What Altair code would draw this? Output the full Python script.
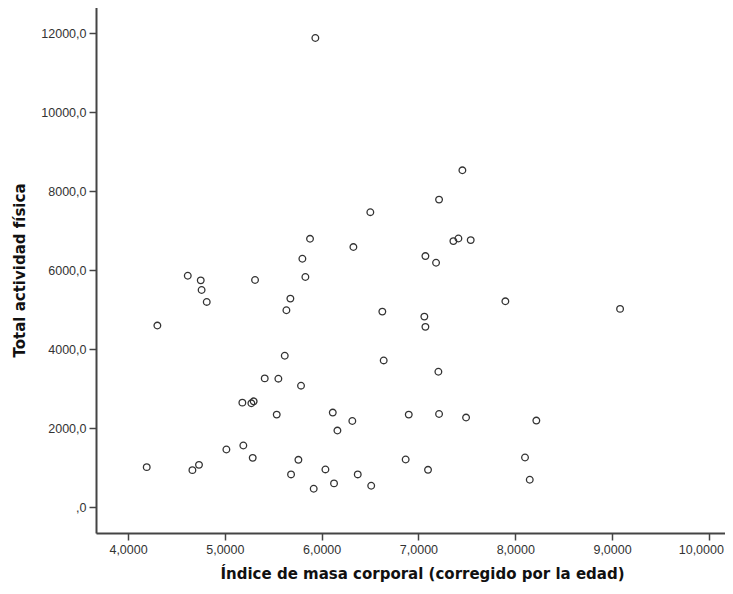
import altair as alt
import pandas as pd

imc = [5.935, 7.454, 7.213, 6.503, 5.880, 6.328, 7.361, 7.413, 7.540, 5.801,
       7.072, 7.182, 5.832, 5.312, 4.617, 4.751, 4.760, 4.813, 4.303, 5.677,
       5.636, 6.627, 7.061, 7.072, 5.619, 6.641, 7.206, 5.412, 5.553, 5.787,
       5.181, 5.274, 5.298, 5.536, 6.115, 6.317, 6.163, 6.900, 7.213, 7.492,
       5.191, 5.016, 5.288, 4.193, 4.665, 4.733, 5.760, 6.868, 6.039, 7.099,
       5.684, 6.373, 6.128, 6.512, 5.918, 7.898, 9.083, 8.218, 8.101, 8.150]

actividad = [11880, 8531, 7789, 7471, 6797, 6588, 6739, 6805, 6764, 6292,
             6360, 6191, 5830, 5754, 5863, 5745, 5502, 5199, 4601, 5283,
             4988, 4954, 4828, 4568, 3836, 3718, 3432, 3264, 3256, 3079,
             2650, 2633, 2683, 2347, 2398, 2186, 1943, 2347, 2363, 2272,
             1565, 1464, 1252, 1017, 941, 1075, 1202, 1211, 959, 949,
             833, 833, 606, 546, 470, 5215, 5023, 2196, 1262, 697]

x_ticks = [4, 5, 6, 7, 8, 9, 10]
y_ticks = [0, 2000, 4000, 6000, 8000, 10000, 12000]

df = pd.DataFrame({"imc": imc, "act": actividad})

label_font = "Liberation Sans"
title_font = "DejaVu Sans"

W = 629
H = 526

points = alt.Chart(df).mark_point(
    shape="circle", filled=False, size=44, strokeWidth=1.3,
    color="#333333", opacity=1
).encode(
    x=alt.X("imc:Q",
            scale=alt.Scale(domain=[3.669, 10.167], nice=False, zero=False),
            axis=alt.Axis(values=x_ticks,
                          labelExpr="replace(format(datum.value, '.4f'), '.', ',')",
                          title="Índice de masa corporal (corregido por la edad)",
                          grid=False, labelFlush=False, labelOverlap=False,
                          labelOffset={"condition": {"test": "datum.value == 10", "value": -8}, "value": 0},
                          labelFont=label_font, labelFontSize=12.5, labelColor="#333333",
                          labelPadding=3, tickSize=7, tickWidth=1.5, tickColor="#444444",
                          domainColor="#444444", domainWidth=2,
                          titleFont=title_font, titleFontSize=15, titleFontWeight="bold",
                          titleColor="#111111", titleX=326, titleY=45,
                          titleAlign="center", titleBaseline="alphabetic")),
    y=alt.Y("act:Q",
            scale=alt.Scale(domain=[-650, 12665], nice=False, zero=False),
            axis=alt.Axis(values=y_ticks,
                          labelExpr="datum.value == 0 ? ',0' : replace(format(datum.value, '.1f'), '.', ',')",
                          title="Total actividad física",
                          grid=False, labelFlush=False, labelOverlap=False,
                          labelFont=label_font, labelFontSize=12.5, labelColor="#333333",
                          labelPadding=3, tickSize=7, tickWidth=1.5, tickColor="#444444",
                          domainColor="#444444", domainWidth=2,
                          titleFont=title_font, titleFontSize=15, titleFontWeight="bold",
                          titleColor="#111111", titleX=-77, titleY=263, titleAngle=-90,
                          titleAlign="center", titleBaseline="middle"))
)

top_border = alt.Chart(df).mark_rule(color="#888888", strokeWidth=2).encode(
    x=alt.value(0), x2=alt.value(W + 10), y=alt.value(0)
)

chart = alt.layer(points, top_border).properties(
    width=W, height=H,
    autosize=alt.AutoSizeParams(type="none"),
    padding={"left": 88, "top": -1, "right": 0, "bottom": 49}
).configure_view(
    fill="#EFF1F3", strokeWidth=0
).configure(background="white")

chart.save("out.html", embed_options={"renderer": "svg", "actions": False})
